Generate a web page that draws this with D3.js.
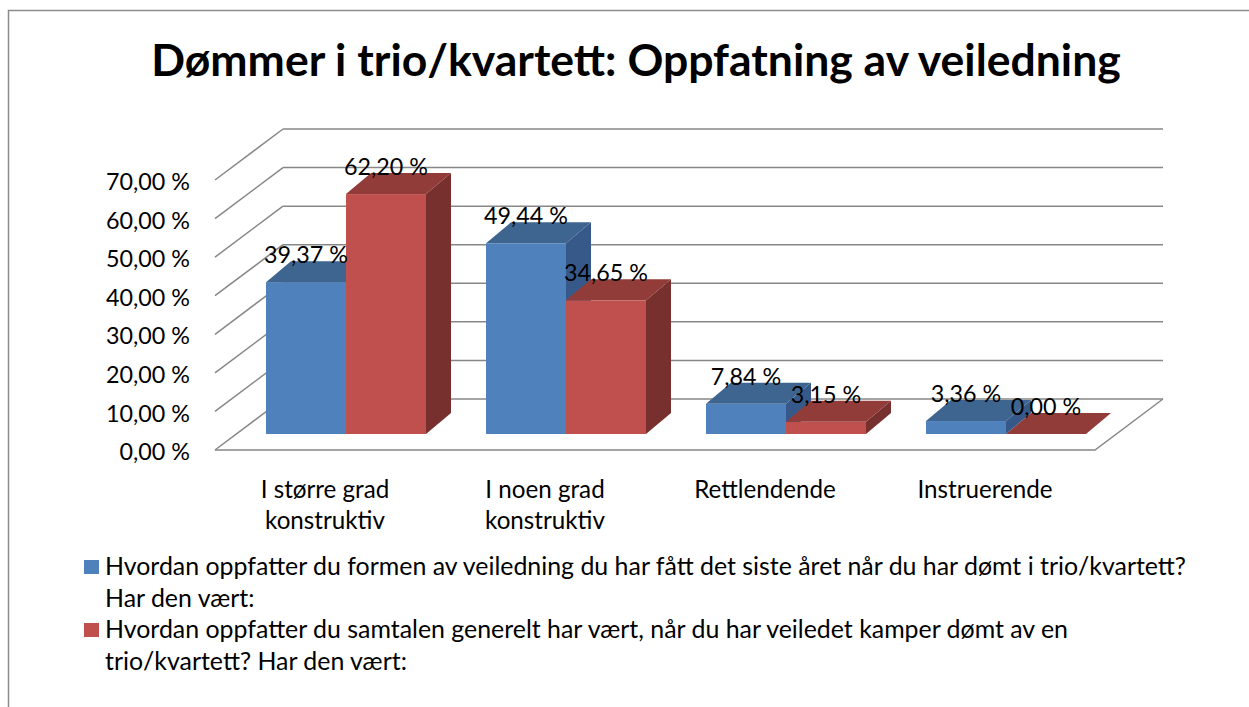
<!DOCTYPE html>
<html>
<head>
<meta charset="utf-8">
<script src="https://cdn.jsdelivr.net/npm/d3@7"></script>
<style>
    body { margin: 0; background: #fff; }
    text { font-family: Lato, "Open Sans", sans-serif; fill: #000; }
</style>
</head>
<body>
<div class="chart-wrapper"></div>
<script>
// data
var categories = ["I større grad konstruktiv", "I noen grad konstruktiv", "Rettlendende", "Instruerende"];
var formVeiledning = [39.37, 49.44, 7.84, 3.36];
var samtaleGenerelt = [62.20, 34.65, 3.15, 0.00];
var yTicks = [0, 10, 20, 30, 40, 50, 60, 70];
var legendLines = [
    ["Hvordan oppfatter du formen av veiledning du har fått det siste året når du har dømt i trio/kvartett?", "Har den vært:"],
    ["Hvordan oppfatter du samtalen generelt har vært, når du har veiledet kamper dømt av en", "trio/kvartett? Har den vært:"]
];
var title = "Dømmer i trio/kvartett: Oppfatning av veiledning";

var width = 1249, height = 707;
var series = [
    {key: "form", values: formVeiledning, front: "#4f81bd", top: "#3e6490", side: "#36598a"},
    {key: "samtale", values: samtaleGenerelt, front: "#c0504d", top: "#923c3a", side: "#78302e"}
];

// 3d-ish geometry
var floor = {left: 215, right: 1095, y: 450};
var depth = {dx: 68, dy: -51};        // floor depth
var barOffset = {dx: 21, dy: -16};    // where bar fronts stand
var barDepth = {dx: 25, dy: -21};

var svg = d3.select(".chart-wrapper").append("svg")
    .attr("width", width)
    .attr("height", height);

// chart border
svg.append("path")
    .attr("d", "M8.5," + height + "V10.5H" + width)
    .attr("fill", "none")
    .attr("stroke", "#8c8c8c")
    .attr("stroke-width", 1.5);

svg.append("text")
    .attr("x", 636)
    .attr("y", 76)
    .attr("text-anchor", "middle")
    .style("font-weight", "bold")
    .style("font-size", "44.5px")
    .text(title);

var y = d3.scaleLinear().domain([0, 70]).range([floor.y, floor.y - 270]);

var x = d3.scaleBand()
    .domain(categories)
    .range([floor.left, floor.right]);

var xInner = d3.scaleBand()
    .domain(series.map(function (s) { return s.key; }))
    .range([0, x.bandwidth()])
    .paddingInner(0)
    .paddingOuter(0.375);

var grid = svg.append("g")
    .attr("fill", "none")
    .attr("stroke", "#878787")
    .attr("stroke-width", 1.5);

// back wall lines
grid.selectAll(".back")
    .data(yTicks)
    .enter().append("line")
    .attr("x1", floor.left + depth.dx)
    .attr("x2", floor.right + depth.dx)
    .attr("y1", function (d) { return y(d) + depth.dy; })
    .attr("y2", function (d) { return y(d) + depth.dy; });

// side wall lines
grid.selectAll(".side")
    .data(yTicks)
    .enter().append("line")
    .attr("x1", floor.left)
    .attr("x2", floor.left + depth.dx)
    .attr("y1", function (d) { return y(d); })
    .attr("y2", function (d) { return y(d) + depth.dy; });

// floor front and right edge
grid.append("path")
    .attr("d", "M" + floor.left + "," + y(0) + "H" + floor.right +
        "l" + depth.dx + "," + depth.dy);

// y axis labels
var fmt = function (v) { return d3.format(".2f")(v).replace(".", ",") + " %"; };

svg.append("g").selectAll("text")
    .data(yTicks)
    .enter().append("text")
    .attr("x", 190)
    .attr("y", function (d) { return y(d) + 2; })
    .attr("dy", "0.35em")
    .attr("text-anchor", "end")
    .style("font-size", "23.3px")
    .text(fmt);

// bars
var bars = [];
categories.forEach(function (c, i) {
    series.forEach(function (s) {
        bars.push({cat: c, s: s, value: s.values[i]});
    });
});

var base = y(0) + barOffset.dy;
var bw = xInner.bandwidth();

var barG = svg.append("g").selectAll("g")
    .data(bars)
    .enter().append("g");

barG.each(function (d) {
    var g = d3.select(this);
    var bx = x(d.cat) + xInner(d.s.key) + barOffset.dx;
    var h = y(0) - y(d.value);
    var top = base - h;
    d.bx = bx;
    d.top = top;
    if (h > 0) {
        g.append("rect")
            .attr("x", bx)
            .attr("y", top)
            .attr("width", bw)
            .attr("height", h)
            .attr("fill", d.s.front);
        g.append("path")
            .attr("d", "M" + (bx + bw) + "," + top + "V" + base +
                "l" + barDepth.dx + "," + barDepth.dy + "V" + (top + barDepth.dy) + "Z")
            .attr("fill", d.s.side);
    }
    g.append("path")
        .attr("d", "M" + bx + "," + top + "h" + bw +
            "l" + barDepth.dx + "," + barDepth.dy + "h" + (-bw) + "Z")
        .attr("fill", d.s.top);
});

// value labels
svg.append("g").selectAll("text")
    .data(bars)
    .enter().append("text")
    .attr("x", function (d) { return d.bx + bw / 2; })
    .attr("y", function (d) { return d.top + barDepth.dy + 2; })
    .attr("text-anchor", "middle")
    .style("font-size", "23.3px")
    .text(function (d) { return fmt(d.value); });

// category labels, wrapped
var catText = svg.append("g").selectAll("text")
    .data(categories)
    .enter().append("text")
    .attr("text-anchor", "middle")
    .style("font-size", "24.2px");

catText.each(function (c) {
    var t = d3.select(this);
    var words = c.split(" ");
    var lines = [], line = [];
    var cx = x(c) + x.bandwidth() / 2;
    words.forEach(function (w) {
        line.push(w);
        t.text(line.join(" "));
        if (this.getComputedTextLength() > 195 && line.length > 1) {
            line.pop();
            lines.push(line.join(" "));
            line = [w];
        }
    }, this);
    lines.push(line.join(" "));
    t.text(null);
    lines.forEach(function (l, k) {
        t.append("tspan")
            .attr("x", cx)
            .attr("y", 498 + k * 31)
            .text(l);
    });
});

// legend
var legend = svg.append("g").selectAll("g")
    .data(series)
    .enter().append("g")
    .attr("transform", function (d, i) { return "translate(0," + (i * 63) + ")"; });

legend.append("rect")
    .attr("x", 84)
    .attr("y", 560)
    .attr("width", 15)
    .attr("height", 14)
    .attr("fill", function (d) { return d.front; });

legend.append("text")
    .style("font-size", "24.9px")
    .each(function (d, i) {
        var t = d3.select(this);
        legendLines[i].forEach(function (l, k) {
            t.append("tspan")
                .attr("x", 105)
                .attr("y", 575 + k * 31.5)
                .text(l);
        });
    });
</script>
</body>
</html>
